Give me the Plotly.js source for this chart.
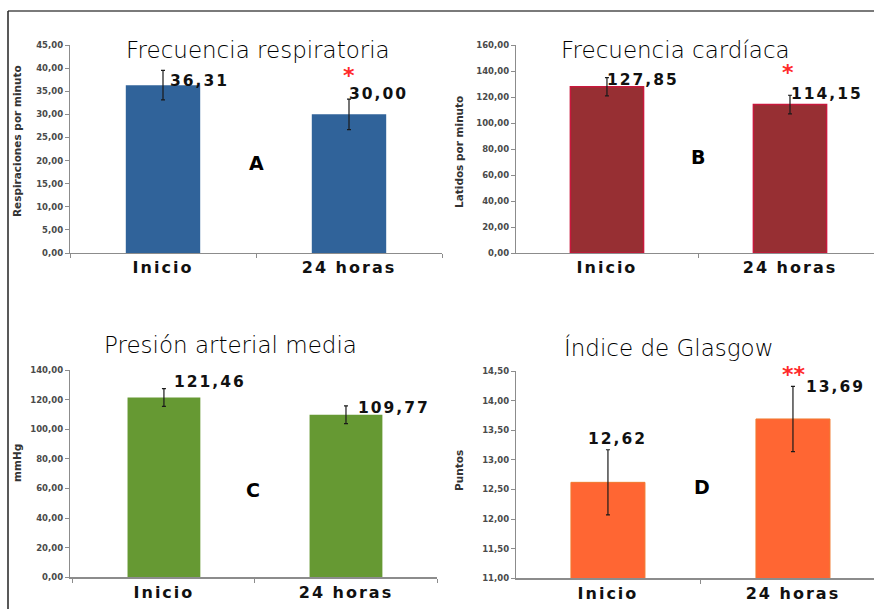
<!DOCTYPE html>
<html>
<head>
<meta charset="utf-8">
<script src="https://cdn.plot.ly/plotly-3.0.1.min.js"></script>
<style>
  html, body { margin: 0; padding: 0; background: #fff; }
  #chart { width: 874px; height: 609px; }
</style>
</head>
<body>
<div id="chart"></div>
<script>
// ---------- data ----------
const categories = ['Inicio', '24 horas'];

const respTitle = 'Frecuencia respiratoria';
const respYTitle = 'Respiraciones por minuto';
const respValues = [36.31, 30.00];
const respErrors = [3.2, 3.3];
const respSig = ['', '*'];

const cardTitle = 'Frecuencia cardíaca';
const cardYTitle = 'Latidos por minuto';
const cardValues = [127.85, 114.15];
const cardErrors = [7.0, 7.2];
const cardSig = ['', '*'];

const pamTitle = 'Presión arterial media';
const pamYTitle = 'mmHg';
const pamValues = [121.46, 109.77];
const pamErrors = [6.0, 6.0];
const pamSig = ['', ''];

const glasTitle = 'Índice de Glasgow';
const glasYTitle = 'Puntos';
const glasValues = [12.62, 13.69];
const glasErrors = [0.55, 0.55];
const glasSig = ['', '**'];

const panelLetters = ['A', 'B', 'C', 'D'];

// ---------- layout / style ----------
const W = 874, H = 609;
const px = v => v / W;
const py = v => 1 - v / H;

const panels = [
  { title: respTitle, ytitle: respYTitle, values: respValues, errors: respErrors, sig: respSig,
    color: '#30639A', line: '#30639A', lineW: 0,
    xdom: [px(70), px(442)], xrange: [-0.5, 1.5], ydom: [py(253), py(45)], yrange: [0, 45], dtick: 5,
    titlePos: [258, 50], ytitlePos: [17, 141], letterPos: [0.5, 0.433],
    lab: [{dx: 10, dy: 4, anchor: 'left'}, {dx: 3, dy: 20, anchor: 'left'}],
    sigOff: [[0, 0], [0, 39]] },
  { title: cardTitle, ytitle: cardYTitle, values: cardValues, errors: cardErrors, sig: cardSig,
    color: '#972F33', line: '#C8183C', lineW: 1.5,
    xdom: [px(516), 1], xrange: [-0.497, 1.459], ydom: [py(253), py(45)], yrange: [0, 160], dtick: 20,
    titlePos: [675, 50], ytitlePos: [459, 152], letterPos: [0.497, 0.46],
    lab: [{dx: 4, dy: 7, anchor: 'left'}, {dx: 5, dy: 11, anchor: 'left'}],
    sigOff: [[0, 0], [-2, 32]] },
  { title: pamTitle, ytitle: pamYTitle, values: pamValues, errors: pamErrors, sig: pamSig,
    color: '#669933', line: '#669933', lineW: 0,
    xdom: [px(70), px(437)], xrange: [-0.516, 1.5], ydom: [py(577.3), py(370)], yrange: [0, 140], dtick: 20,
    titlePos: [230, 345], ytitlePos: [17, 463], letterPos: [0.49, 0.42],
    lab: [{dx: 14, dy: 15, anchor: 'left'}, {dx: 16, dy: 7, anchor: 'left'}],
    sigOff: [[0, 0], [0, 0]] },
  { title: glasTitle, ytitle: glasYTitle, values: glasValues, errors: glasErrors, sig: glasSig,
    color: '#FF6633', line: '#F07A30', lineW: 1,
    xdom: [px(516), 1], xrange: [-0.497, 1.438], ydom: [py(578.3), py(371)], yrange: [11, 14.5], dtick: 0.5,
    titlePos: [669, 347], ytitlePos: [459, 471], letterPos: [0.51, 0.44],
    lab: [{dx: 10, dy: 43, anchor: 'center'}, {dx: 16, dy: 32, anchor: 'left'}],
    sigOff: [[0, 0], [1, 44]] }
];

const traces = [];
const layout = {
  width: W, height: H,
  margin: {l: 0, r: 0, t: 0, b: 0},
  paper_bgcolor: '#ffffff', plot_bgcolor: 'rgba(0,0,0,0)',
  showlegend: false,
  bargap: 0.6,
  separators: ',.',
  annotations: [],
  shapes: [
    {type: 'line', xref: 'paper', yref: 'paper', x0: px(8), x1: 1, y0: py(11), y1: py(11),
     line: {color: '#7a7a7a', width: 2}},
    {type: 'line', xref: 'paper', yref: 'paper', x0: px(8), x1: px(8), y0: py(11), y1: 0,
     line: {color: '#222222', width: 1.5}}
  ]
};

const valueAnnIdx = [];

panels.forEach((p, i) => {
  const n = i + 1;
  const xa = 'x' + (n === 1 ? '' : n);
  const ya = 'y' + (n === 1 ? '' : n);
  traces.push({
    type: 'bar', x: categories, y: p.values, xaxis: xa, yaxis: ya,
    marker: {color: p.color, line: {color: p.line, width: p.lineW}},
    error_y: {type: 'data', array: p.errors, visible: true, color: '#1a1a1a', thickness: 1.2, width: 2},
    hoverinfo: 'skip'
  });
  const xkey = 'xaxis' + (n === 1 ? '' : n);
  const ykey = 'yaxis' + (n === 1 ? '' : n);
  layout[xkey] = {
    domain: p.xdom, range: p.xrange, type: 'category', anchor: ya,
    showline: true, linecolor: '#8c8c8c', linewidth: 1.2,
    ticks: 'outside', tickson: 'boundaries', ticklen: 4, tickcolor: '#8c8c8c',
    showgrid: false, zeroline: false, fixedrange: true,
    tickfont: {family: 'DejaVu Sans', size: 16, color: '#111111', weight: 'bold'}
  };
  layout[ykey] = {
    domain: p.ydom, range: p.yrange, anchor: xa,
    showline: true, linecolor: '#8c8c8c', linewidth: 1.2,
    ticks: 'outside', ticklen: 4, tickcolor: '#8c8c8c',
    dtick: p.dtick, tick0: p.yrange[0], tickformat: '.2f',
    showgrid: false, zeroline: false, fixedrange: true,
    tickfont: {family: 'DejaVu Sans', size: 8.5, color: '#4a4a4a', weight: 'bold'}
  };
  // panel title
  layout.annotations.push({
    xref: 'paper', yref: 'paper', x: px(p.titlePos[0]), y: py(p.titlePos[1]),
    xanchor: 'center', yanchor: 'middle', showarrow: false, text: p.title,
    font: {family: 'DejaVu Sans', size: 23, color: '#000000', weight: 200}
  });
  // y axis title
  layout.annotations.push({
    xref: 'paper', yref: 'paper', x: px(p.ytitlePos[0]), y: py(p.ytitlePos[1]),
    xanchor: 'center', yanchor: 'middle', showarrow: false, text: p.ytitle, textangle: -90,
    font: {family: 'DejaVu Sans', size: 10.5, color: '#333333', weight: 'bold'}
  });
  // panel letter
  layout.annotations.push({
    xref: xa, yref: ya + ' domain', x: p.letterPos[0], y: p.letterPos[1],
    xanchor: 'center', yanchor: 'middle', showarrow: false, text: panelLetters[i],
    font: {family: 'DejaVu Sans', size: 19, color: '#000000', weight: 'bold'}
  });
  // value labels and significance marks
  p.values.forEach((v, j) => {
    valueAnnIdx.push(layout.annotations.length);
    layout.annotations.push({
      xref: xa, yref: ya, x: categories[j], y: v,
      xanchor: p.lab[j].anchor, yanchor: 'middle', xshift: p.lab[j].dx, yshift: p.lab[j].dy,
      showarrow: false, text: v.toFixed(2).replace('.', ','),
      font: {family: 'DejaVu Sans', size: 15.5, color: '#111111', weight: 'bold'}
    });
    if (p.sig[j]) {
      layout.annotations.push({
        xref: xa, yref: ya, x: categories[j], y: v,
        xanchor: 'center', yanchor: 'middle', xshift: p.sigOff[j][0], yshift: p.sigOff[j][1],
        showarrow: false, text: p.sig[j],
        font: {family: 'DejaVu Sans', size: 22, color: '#ff2a2a', weight: 'bold'}
      });
    }
  });
});

Plotly.newPlot('chart', traces, layout, {staticPlot: true, displayModeBar: false}).then(gd => {
  gd.querySelectorAll('g.xtick text, g.x2tick text, g.x3tick text, g.x4tick text')
    .forEach(t => { t.style.letterSpacing = '2px'; });
  valueAnnIdx.forEach(k => {
    const g = gd.querySelector('g.annotation[data-index="' + k + '"] text');
    if (g) g.style.letterSpacing = '2px';
  });
});
</script>
</body>
</html>
